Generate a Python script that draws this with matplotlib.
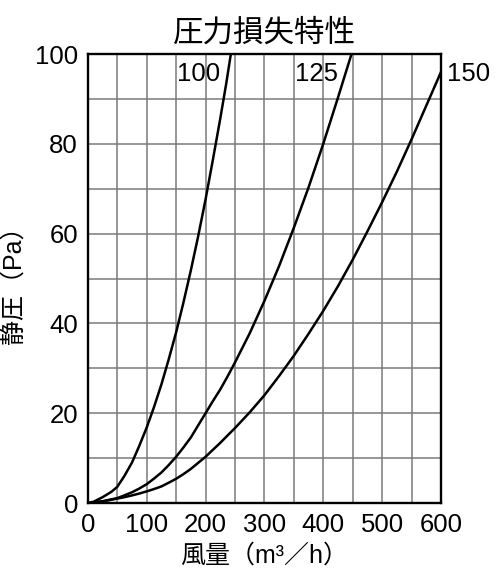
import matplotlib
matplotlib.use("Agg")
import matplotlib.pyplot as plt
from matplotlib.ticker import MultipleLocator

# Data
x_100 = [0, 10, 25, 40, 50, 62, 75, 87, 100, 112, 125, 137, 150, 162, 175, 187,
         200, 212, 225, 235, 243]
y_100 = [0, 0.3, 1.3, 2.5, 3.6, 6.0, 9.0, 12.6, 16.8, 21.2, 26.4, 31.8, 38.0, 44.4, 51.8, 59.1,
         67.6, 76.1, 85.6, 93.3, 100]

x_125 = [0, 25, 50, 62, 75, 87, 100, 112, 125, 137, 150, 162, 175, 187, 200, 212, 225, 237,
         250, 275, 300, 325, 350, 375, 400, 425, 448]
y_125 = [0, 0.4, 1.1, 1.7, 2.4, 3.2, 4.2, 5.4, 6.8, 8.4, 10.3, 12.3, 14.6, 17.2, 20.0, 22.6, 25.3, 28.1,
         31.3, 37.8, 45.0, 52.8, 61.3, 70.3, 80.0, 90.3, 100]

x_150 = [0, 25, 50, 62, 75, 87, 100, 112, 125, 137, 150, 162, 175, 187, 200, 212, 225, 237,
         250, 275, 300, 325, 350, 375, 400, 425, 450, 475, 500, 525, 550, 575, 600]
y_150 = [0, 0.35, 1.0, 1.3, 1.7, 2.1, 2.6, 3.1, 3.7, 4.5, 5.4, 6.4, 7.6, 8.9, 10.3, 11.8, 13.4, 15.0,
         16.7, 20.2, 24.0, 28.3, 32.8, 37.7, 42.8, 48.3, 54.2, 60.5, 67.0, 73.8, 81.0, 88.5, 96.0]

series = [("100", x_100, y_100, (189, 95.5)),
          ("125", x_125, y_125, (389, 95.5)),
          ("150", x_150, y_150, (646, 95.5))]

title = "圧力損失特性"
xlabel = "風量（m³／h）"
ylabel = "静圧（Pa）"
xticks = [0, 100, 200, 300, 400, 500, 600]
yticks = [0, 20, 40, 60, 80, 100]

fam = ["Liberation Sans", "Noto Sans CJK JP", "DejaVu Sans"]
plt.rcParams["font.family"] = fam

fig = plt.figure(figsize=(5.0, 5.87), dpi=100)
ax = fig.add_axes([0.1756, 0.143, 0.7064, 0.765])

ax.set_xlim(0, 600)
ax.set_ylim(0, 100)
ax.xaxis.set_minor_locator(MultipleLocator(50))
ax.yaxis.set_minor_locator(MultipleLocator(10))
ax.set_xticks(xticks)
ax.set_yticks(yticks)
ax.grid(True, which="both", color="#7a7a7a", lw=1.1)
ax.set_axisbelow(True)

for lab, xs, ys, (tx, ty) in series:
    ax.plot(xs, ys, color="black", lw=1.8, solid_joinstyle="round")
    ax.text(tx, ty, lab, fontsize=18.5, ha="center", va="center", clip_on=False)

for s in ax.spines.values():
    s.set_linewidth(1.7)
    s.set_color("black")

ax.tick_params(which="both", length=0, labelsize=18.5, pad=7)
ax.set_title(title, fontsize=22, pad=9)
ax.set_xlabel(xlabel, fontsize=18, labelpad=5)
ax.set_ylabel(ylabel, fontsize=18, labelpad=7)

fig.savefig("out.png", dpi=100, facecolor="white")
